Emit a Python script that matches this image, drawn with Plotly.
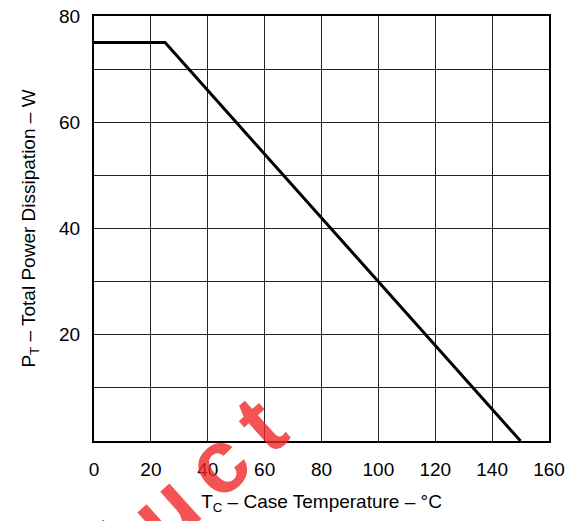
import plotly.graph_objects as go

# Data
case_temp_c = [0, 25, 150]
power_w = [75, 75, 0]

x_tick_vals = [0, 20, 40, 60, 80, 100, 120, 140, 160]
y_tick_vals = [10, 20, 30, 40, 50, 60, 70, 80]
y_tick_text = ["", "20", "", "40", "", "60", "", "80"]

FONT = "Liberation Sans, Arial, Helvetica, sans-serif"

fig = go.Figure()
fig.add_trace(go.Scatter(
    x=case_temp_c, y=power_w, mode="lines",
    line=dict(color="black", width=3),
    showlegend=False, hoverinfo="skip",
))

fig.update_xaxes(
    range=[0, 160], tickvals=x_tick_vals,
    showgrid=True, gridcolor="#222", gridwidth=1,
    showline=True, linecolor="black", linewidth=2, mirror=True,
    ticks="", zeroline=False, automargin=False,
    tickfont=dict(family=FONT, size=19, color="black"),
    ticklabelstandoff=10, ticklabeloverflow="allow",
    title=dict(text="T<sub>C</sub> – Case Temperature – °C",
               font=dict(family=FONT, size=19, color="black"), standoff=16),
)
fig.update_yaxes(
    range=[0, 80], tickvals=y_tick_vals, ticktext=y_tick_text,
    showgrid=True, gridcolor="#222", gridwidth=1,
    showline=True, linecolor="black", linewidth=2, mirror=True,
    ticks="", zeroline=False, automargin=False,
    tickfont=dict(family=FONT, size=19, color="black"),
    ticklabelstandoff=8, ticklabeloverflow="allow",
    title=dict(text="P<sub>T</sub> – Total Power Dissipation – W",
               font=dict(family=FONT, size=19, color="black"), standoff=18),
)

fig.add_annotation(
    text="<b>P\u2009r\u2009o\u2009d\u2009u\u2009c\u2009t</b>", xref="paper", yref="paper",
    x=0.024, y=-0.29, xanchor="center", yanchor="middle",
    showarrow=False, textangle=-42,
    font=dict(family=FONT, size=90, color="rgba(240,40,40,0.8)"),
)

fig.update_layout(
    width=580, height=521,
    margin=dict(l=94, r=31, t=16, b=80),
    paper_bgcolor="white", plot_bgcolor="white",
)

fig.write_html("out.html", config={"displayModeBar": False},
               post_script="document.body.style.margin='0px';")
